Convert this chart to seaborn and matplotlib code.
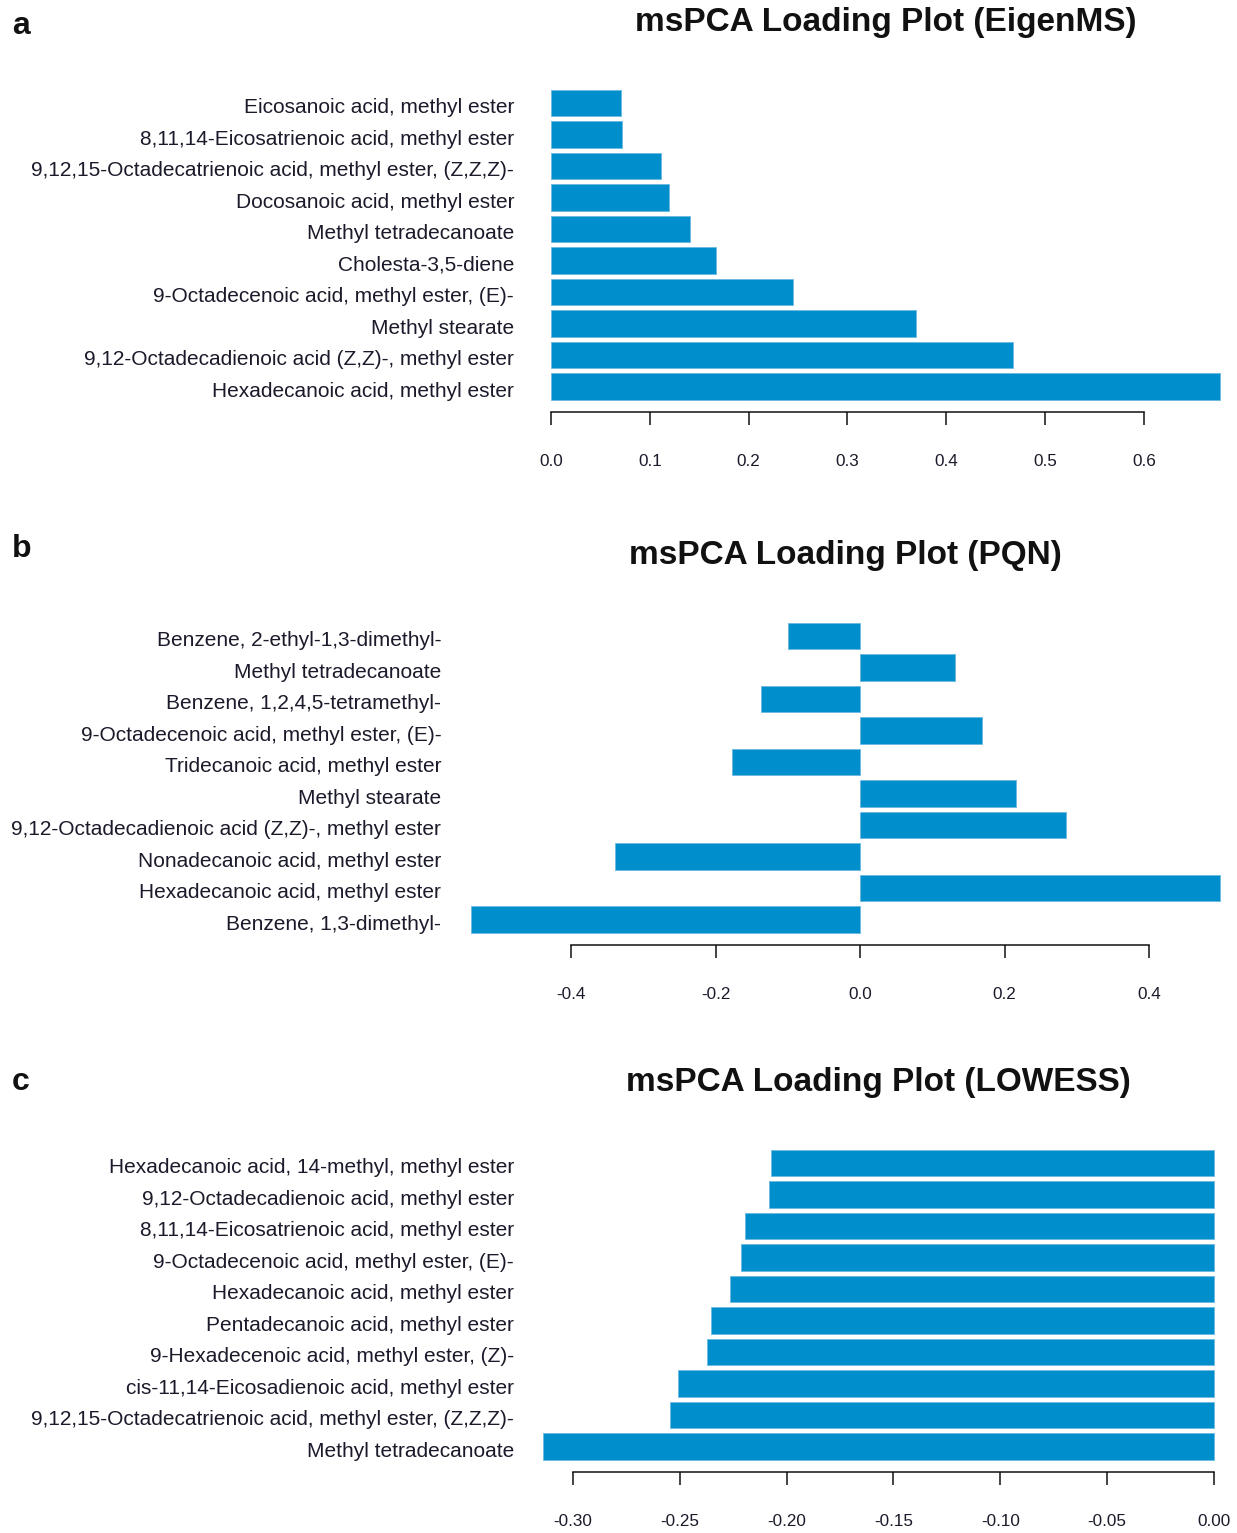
import numpy as np
import pandas as pd
import matplotlib
matplotlib.use("Agg")
import matplotlib.pyplot as plt
import matplotlib.transforms as mtransforms
import seaborn as sns

# ---- data (top to bottom as shown) ----
eigenms_names = [
    "Eicosanoic acid, methyl ester",
    "8,11,14-Eicosatrienoic acid, methyl ester",
    "9,12,15-Octadecatrienoic acid, methyl ester, (Z,Z,Z)-",
    "Docosanoic acid, methyl ester",
    "Methyl tetradecanoate",
    "Cholesta-3,5-diene",
    "9-Octadecenoic acid, methyl ester, (E)-",
    "Methyl stearate",
    "9,12-Octadecadienoic acid (Z,Z)-, methyl ester",
    "Hexadecanoic acid, methyl ester",
]
eigenms_vals = [0.071, 0.072, 0.111, 0.119, 0.141, 0.167, 0.245, 0.369, 0.467, 0.677]

pqn_names = [
    "Benzene, 2-ethyl-1,3-dimethyl-",
    "Methyl tetradecanoate",
    "Benzene, 1,2,4,5-tetramethyl-",
    "9-Octadecenoic acid, methyl ester, (E)-",
    "Tridecanoic acid, methyl ester",
    "Methyl stearate",
    "9,12-Octadecadienoic acid (Z,Z)-, methyl ester",
    "Nonadecanoic acid, methyl ester",
    "Hexadecanoic acid, methyl ester",
    "Benzene, 1,3-dimethyl-",
]
pqn_vals = [-0.099, 0.132, -0.137, 0.169, -0.177, 0.216, 0.285, -0.339, 0.498, -0.538]

lowess_names = [
    "Hexadecanoic acid, 14-methyl, methyl ester",
    "9,12-Octadecadienoic acid, methyl ester",
    "8,11,14-Eicosatrienoic acid, methyl ester",
    "9-Octadecenoic acid, methyl ester, (E)-",
    "Hexadecanoic acid, methyl ester",
    "Pentadecanoic acid, methyl ester",
    "9-Hexadecenoic acid, methyl ester, (Z)-",
    "cis-11,14-Eicosadienoic acid, methyl ester",
    "9,12,15-Octadecatrienoic acid, methyl ester, (Z,Z,Z)-",
    "Methyl tetradecanoate",
]
lowess_vals = [-0.2075, -0.2084, -0.2195, -0.2212, -0.2263, -0.2353, -0.2375, -0.2510, -0.2548, -0.3141]

titles = ["msPCA Loading Plot (EigenMS)", "msPCA Loading Plot (PQN)", "msPCA Loading Plot (LOWESS)"]
letters = ["a", "b", "c"]
ticks_a = [0.0, 0.1, 0.2, 0.3, 0.4, 0.5, 0.6]
ticks_b = [-0.4, -0.2, 0.0, 0.2, 0.4]
ticks_c = [-0.30, -0.25, -0.20, -0.15, -0.10, -0.05, 0.00]
fmt = ["{:.1f}", "{:.1f}", "{:.2f}"]

BAR = "#008ECC"

sns.set_theme(style="white")
plt.rcParams["font.family"] = ["Liberation Sans", "DejaVu Sans"]
plt.rcParams["axes.unicode_minus"] = False

W, H = 1237, 1533
fig = plt.figure(figsize=(W / 100, H / 100), dpi=100)

# layout in pixels: zero position, px per unit, axis line y, label right edge, letter baseline
layout = [
    dict(zero=551, ppu=988.3, axis_y=412, lab_right=514, letter_y=34),
    dict(zero=860, ppu=722.5, axis_y=945, lab_right=442, letter_y=557),
    dict(zero=1214, ppu=2136.7, axis_y=1472, lab_right=514, letter_y=1090),
]
row_px = 31.5

panels = [
    (eigenms_names, eigenms_vals, ticks_a),
    (pqn_names, pqn_vals, ticks_b),
    (lowess_names, lowess_vals, ticks_c),
]

for i, ((names, vals, ticks), lay) in enumerate(zip(panels, layout)):
    df = pd.DataFrame({"name": names, "value": vals})
    lo, hi = min(0, min(vals)), max(0, max(vals))
    ext = 0.04 * (hi - lo)
    xlim = (lo - ext, hi + ext)

    n = len(names)
    ylo, yhi = -0.5 + 1 / 12, n - 0.5 - 1 / 12
    yext = 0.04 * (yhi - ylo)
    ylim = (yhi + yext, ylo - yext)
    ax_h = (ylim[0] - ylim[1]) * row_px

    left_px = lay["zero"] + xlim[0] * lay["ppu"]
    width_px = (xlim[1] - xlim[0]) * lay["ppu"]
    bottom_px = lay["axis_y"]
    ax = fig.add_axes([left_px / W, 1 - bottom_px / H, width_px / W, ax_h / H])

    sns.barplot(data=df, x="value", y="name", orient="h", color=BAR, saturation=1,
                width=1 / 1.2, edgecolor="#6cb8e0", linewidth=0.6, ax=ax)
    ax.set_xlim(*xlim)
    ax.set_ylim(*ylim)
    ax.set_xlabel("")
    ax.set_ylabel("")

    for s in ["left", "top", "right"]:
        ax.spines[s].set_visible(False)
    ax.spines["bottom"].set_bounds(ticks[0], ticks[-1])
    ax.spines["bottom"].set_linewidth(1.1)
    ax.spines["bottom"].set_color("#111111")

    ax.set_xticks(ticks)
    ax.set_xticklabels([fmt[i].format(t) for t in ticks])
    ax.tick_params(axis="x", direction="out", length=9, width=1.1, color="#111111",
                   pad=21.5, labelsize=12.3, labelcolor="#1a1a2a", bottom=True)
    pad_pt = max(left_px - lay["lab_right"], 0) * 0.72
    ax.tick_params(axis="y", length=0, pad=pad_pt, labelsize=15, labelcolor="#1a1a2a")
    shift = mtransforms.ScaledTranslation(0, -0.03, fig.dpi_scale_trans)
    for lab in ax.get_yticklabels():
        lab.set_transform(lab.get_transform() + shift)

    ax.set_title(titles[i], fontsize=24, fontweight="bold", pad=33.5, color="#111111")
    fig.text(12 / W, 1 - lay["letter_y"] / H, letters[i], fontsize=23, fontweight="bold",
             va="baseline", ha="left", color="#111111")

fig.savefig("out.png", dpi=100)
